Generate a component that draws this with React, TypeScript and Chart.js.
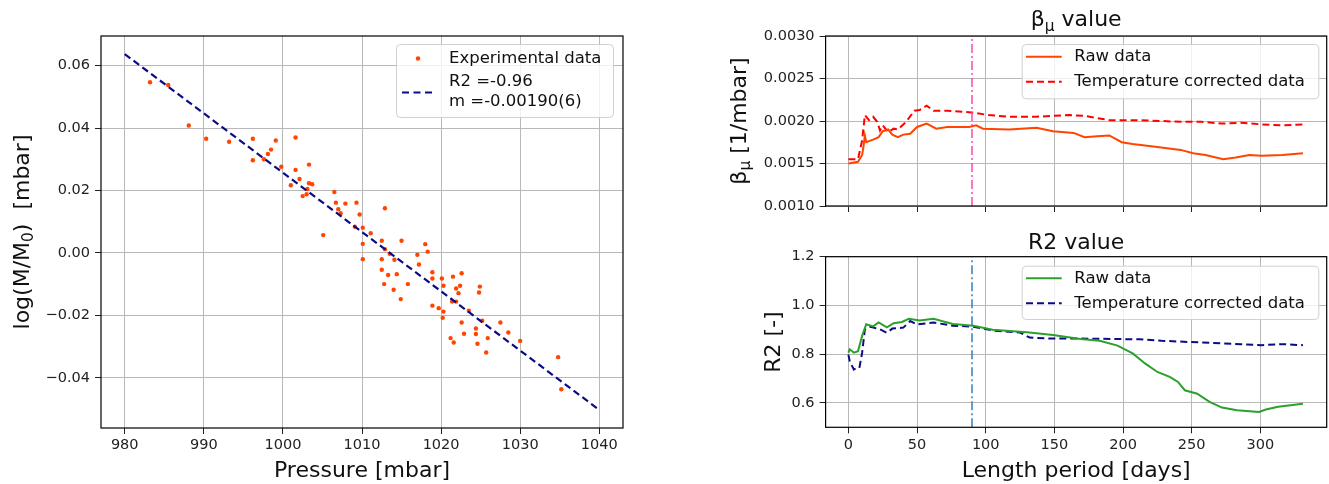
import React, { useEffect, useRef } from "react";
import { Chart, registerables } from "chart.js";

Chart.register(...registerables);

const FONT = "'DejaVu Sans', sans-serif";

// ---------- Left panel: experimental data ----------
const pressure = [
  983.2, 985.5, 988.1, 990.3, 993.2, 996.2, 996.2, 997.6, 998.1, 998.5,
  999.1, 999.8, 1001.6, 1001.6, 1001.0, 1002.1, 1002.5, 1003.3, 1003.3, 1003.1,
  1003.0, 1003.7, 1005.1, 1006.5, 1006.7, 1007.0, 1007.3, 1007.9, 1009.3, 1009.7,
  1009.1, 1010.1, 1011.1, 1010.1, 1010.1, 1012.9, 1012.5, 1012.9, 1013.5, 1012.5,
  1012.5, 1013.3, 1014.4, 1014.1, 1012.8, 1014.0, 1015.0, 1014.9, 1015.8, 1017.0,
  1017.2, 1018.0, 1018.3, 1018.9, 1018.9, 1018.9, 1019.7, 1020.1, 1020.3, 1020.3,
  1020.2, 1021.5, 1021.9, 1022.2, 1022.4, 1022.6, 1021.4, 1021.9, 1023.5, 1022.6,
  1021.2, 1021.6, 1022.9, 1024.4, 1024.4, 1024.6, 1024.8, 1024.9, 1025.2, 1025.9,
  1025.7, 1027.5, 1028.5, 1030.0, 1034.8, 1035.2,
];
const logRatio = [
  0.0547, 0.0538, 0.0408, 0.0366, 0.0356, 0.0366, 0.0297, 0.03, 0.0317, 0.0331,
  0.036, 0.0276, 0.037, 0.0266, 0.0217, 0.0237, 0.0182, 0.0283, 0.0223, 0.0205,
  0.0188, 0.022, 0.0057, 0.0195, 0.0161, 0.014, 0.0127, 0.0158, 0.0161, 0.0123,
  0.0084, 0.0081, 0.0063, 0.0029, -0.002, 0.0143, 0.0039, 0.0012, -0.0003, -0.002,
  -0.0054, -0.0071, -0.0068, -0.0022, -0.01, -0.0118, 0.0039, -0.0148, -0.01, -0.0006,
  -0.0037, 0.0028, 0.0004, -0.0062, -0.0082, -0.0169, -0.0177, -0.0082, -0.0105, -0.0188,
  -0.0208, -0.0076, -0.0114, -0.0129, -0.0105, -0.0065, -0.0156, -0.0156, -0.0185, -0.0223,
  -0.0273, -0.0287, -0.0259, -0.0242, -0.026, -0.0291, -0.0127, -0.0108, -0.0217, -0.0273,
  -0.0319, -0.0223, -0.0255, -0.0282, -0.0334, -0.0437,
];
const fitPressure = [980, 1040];
const fitLogRatio = [0.0637, -0.0503];
const pressureTicks = [980, 990, 1000, 1010, 1020, 1030, 1040];
const pressureTickLabels = ["980", "990", "1000", "1010", "1020", "1030", "1040"];
const logTicks = [-0.04, -0.02, 0, 0.02, 0.04, 0.06];
const logTickLabels = ["\u22120.04", "\u22120.02", "0.00", "0.02", "0.04", "0.06"];

// ---------- Right panels ----------
const betaRawDays = [0, 7, 10, 11, 12, 13, 18, 22, 25, 29, 32, 36, 40, 45, 50, 57, 64, 72, 88, 93, 98, 117, 137, 149, 164, 172, 181, 190, 199, 207, 222, 242, 251, 260, 273, 282, 292, 301, 316, 331];
const betaRaw = [0.0015, 0.00152, 0.0016, 0.0017, 0.00183, 0.00175, 0.00178, 0.00181, 0.00188, 0.0019, 0.00184, 0.00181, 0.00184, 0.00185, 0.00193, 0.00197, 0.00191, 0.00193, 0.00193, 0.00195, 0.00191, 0.0019, 0.00192, 0.00188, 0.00186, 0.00181, 0.00182, 0.00183, 0.00175, 0.00173, 0.0017, 0.00166, 0.00162, 0.0016, 0.00155, 0.00157, 0.0016, 0.00159, 0.0016, 0.00162];
const betaCorrDays = [0, 7, 10, 12, 15, 18, 21, 23, 25, 29, 33, 36, 42, 48, 52, 57, 62, 72, 90, 102, 117, 137, 161, 172, 190, 213, 242, 257, 272, 286, 301, 316, 331];
const betaCorr = [0.00155, 0.00155, 0.00177, 0.00207, 0.00201, 0.00205, 0.00199, 0.00189, 0.00195, 0.00187, 0.00191, 0.0019, 0.00199, 0.00212, 0.00213, 0.00218, 0.00212, 0.00212, 0.0021, 0.00207, 0.00205, 0.00205, 0.00207, 0.00206, 0.00201, 0.00201, 0.00199, 0.00199, 0.00197, 0.00198, 0.00196, 0.00195, 0.00196];

const r2RawDays = [0, 1, 4, 7, 10, 13, 18, 22, 28, 33, 39, 44, 52, 62, 76, 91, 105, 130, 149, 169, 183, 196, 207, 216, 225, 234, 240, 245, 254, 263, 272, 283, 299, 304, 313, 331];
const r2Raw = [0.806, 0.82, 0.806, 0.812, 0.875, 0.923, 0.914, 0.93, 0.91, 0.927, 0.932, 0.945, 0.938, 0.945, 0.924, 0.917, 0.9, 0.89, 0.879, 0.862, 0.855, 0.835, 0.803, 0.762, 0.727, 0.707, 0.686, 0.652, 0.638, 0.604, 0.581, 0.57, 0.563, 0.573, 0.584, 0.597];
const r2CorrDays = [0, 1, 4, 6, 8, 10, 12, 16, 23, 28, 32, 40, 45, 50, 62, 76, 91, 106, 125, 132, 149, 169, 212, 228, 257, 286, 301, 316, 331];
const r2Corr = [0.798, 0.77, 0.737, 0.744, 0.744, 0.806, 0.902, 0.912, 0.902, 0.888, 0.905, 0.909, 0.936, 0.922, 0.93, 0.917, 0.913, 0.896, 0.889, 0.868, 0.864, 0.864, 0.861, 0.855, 0.848, 0.841, 0.837, 0.841, 0.837];

const cutoffDay = 90;
const dayTicks = [0, 50, 100, 150, 200, 250, 300];
const dayTickLabels = ["0", "50", "100", "150", "200", "250", "300"];
const betaTicks = [0.001, 0.0015, 0.002, 0.0025, 0.003];
const betaTickLabels = ["0.0010", "0.0015", "0.0020", "0.0025", "0.0030"];
const r2Ticks = [0.6, 0.8, 1.0, 1.2];
const r2TickLabels = ["0.6", "0.8", "1.0", "1.2"];

// ---------- helpers ----------
type Part = { t: string; sub?: boolean };
type LegendItem = { kind: "dot" | "line"; color: string; dash?: number[]; width?: number; symY: number; lines: string[]; ys: number[] };
type Spec = {
  left: number; top: number; width: number; height: number;
  area: { left: number; right: number; top: number; bottom: number };
  datasets: any[];
  xMin: number; xMax: number; xTicks: number[]; xLabels: string[] | null;
  yMin: number; yMax: number; yTicks: number[]; yLabels: string[];
  title?: { parts: Part[]; y: number };
  xTitle?: { parts: Part[]; y: number };
  yTitle?: { parts: Part[]; x: number };
  legend: { box: number[]; symX: number[]; textX: number; items: LegendItem[] };
};

const pts = (xs: number[], ys: number[]) => xs.map((x, i) => ({ x, y: ys[i] }));

function drawRich(ctx: CanvasRenderingContext2D, parts: Part[], x: number, y: number, size: number, rotate: boolean) {
  ctx.save();
  ctx.translate(x, y);
  if (rotate) ctx.rotate(-Math.PI / 2);
  const big = `${size}px ${FONT}`;
  const small = `${size * 0.7}px ${FONT}`;
  let total = 0;
  for (const p of parts) {
    ctx.font = p.sub ? small : big;
    total += ctx.measureText(p.t).width;
  }
  let cx = -total / 2;
  ctx.textAlign = "left";
  ctx.textBaseline = "alphabetic";
  ctx.fillStyle = "#111";
  for (const p of parts) {
    ctx.font = p.sub ? small : big;
    ctx.fillText(p.t, cx, size * 0.36 + (p.sub ? size * 0.2 : 0));
    cx += ctx.measureText(p.t).width;
  }
  ctx.restore();
}

const GRID = "#b8b8b8";
const TICK_FONT = { family: FONT, size: 14.5 };

function Panel({ spec }: { spec: Spec }) {
  const ref = useRef<HTMLCanvasElement>(null);
  useEffect(() => {
    const canvas = ref.current!;
    const ox = spec.left;
    const oy = spec.top;
    const W = spec.width;
    const H = spec.height;
    const a = {
      left: spec.area.left - ox,
      right: spec.area.right - ox,
      top: spec.area.top - oy,
      bottom: spec.area.bottom - oy,
    };
    const decor = {
      id: "decor",
      afterDraw(chart: any) {
        const ctx: CanvasRenderingContext2D = chart.ctx;
        const ca = chart.chartArea;
        ctx.save();
        ctx.strokeStyle = "#000";
        ctx.lineWidth = 1.2;
        ctx.setLineDash([]);
        ctx.strokeRect(ca.left, ca.top, ca.right - ca.left, ca.bottom - ca.top);
        // legend
        const L = spec.legend;
        const bx0 = L.box[0] - ox, by0 = L.box[1] - oy, bx1 = L.box[2] - ox, by1 = L.box[3] - oy;
        ctx.beginPath();
        (ctx as any).roundRect(bx0 + 0.5, by0 + 0.5, bx1 - bx0, by1 - by0, 4);
        ctx.fillStyle = "rgba(255,255,255,0.8)";
        ctx.fill();
        ctx.strokeStyle = "#d0d0d0";
        ctx.lineWidth = 1;
        ctx.stroke();
        for (const it of L.items) {
          const sy = it.symY - oy;
          const sx0 = L.symX[0] - ox, sx1 = L.symX[1] - ox;
          if (it.kind === "dot") {
            ctx.beginPath();
            ctx.arc((sx0 + sx1) / 2, sy, 2.2, 0, Math.PI * 2);
            ctx.fillStyle = it.color;
            ctx.fill();
          } else {
            ctx.beginPath();
            ctx.setLineDash(it.dash || []);
            ctx.strokeStyle = it.color;
            ctx.lineWidth = it.width || 2;
            ctx.moveTo(sx0, sy);
            ctx.lineTo(sx1, sy);
            ctx.stroke();
            ctx.setLineDash([]);
          }
          ctx.font = `16.5px ${FONT}`;
          ctx.fillStyle = "#111";
          ctx.textAlign = "left";
          ctx.textBaseline = "middle";
          it.lines.forEach((t, i) => ctx.fillText(t, L.textX - ox, it.ys[i] - oy));
        }
        const cxm = (ca.left + ca.right) / 2;
        const cym = (ca.top + ca.bottom) / 2;
        if (spec.title) drawRich(ctx, spec.title.parts, cxm, spec.title.y - oy, 22, false);
        if (spec.xTitle) drawRich(ctx, spec.xTitle.parts, cxm, spec.xTitle.y - oy, 22, false);
        if (spec.yTitle) drawRich(ctx, spec.yTitle.parts, spec.yTitle.x - ox, cym, 22, true);
        ctx.restore();
      },
    };
    const chart = new Chart(canvas, {
      type: "scatter",
      data: { datasets: spec.datasets },
      options: {
        animation: false,
        responsive: false,
        devicePixelRatio: 1,
        layout: { padding: { left: 0, top: a.top, right: W - a.right, bottom: 0 } },
        plugins: { legend: { display: false }, tooltip: { enabled: false }, title: { display: false } },
        elements: { line: { tension: 0 } },
        scales: {
          x: {
            type: "linear",
            position: "bottom",
            min: spec.xMin,
            max: spec.xMax,
            afterBuildTicks: (s: any) => {
              s.ticks = spec.xTicks.map((v) => ({ value: v }));
            },
            afterFit: (s: any) => {
              s.height = H - a.bottom;
            },
            grid: { color: GRID, lineWidth: 1, drawTicks: true, tickLength: 6, tickColor: "#222", tickWidth: 1 },
            border: { display: false },
            ticks: {
              font: TICK_FONT,
              color: "#222",
              padding: 3,
              maxRotation: 0,
              autoSkip: false,
              callback: (_v: any, i: number) => (spec.xLabels ? spec.xLabels[i] : ""),
            },
          },
          y: {
            type: "linear",
            position: "left",
            min: spec.yMin,
            max: spec.yMax,
            afterBuildTicks: (s: any) => {
              s.ticks = spec.yTicks.map((v) => ({ value: v }));
            },
            afterFit: (s: any) => {
              s.width = a.left;
            },
            grid: { color: GRID, lineWidth: 1, drawTicks: true, tickLength: 6, tickColor: "#222", tickWidth: 1 },
            border: { display: false },
            ticks: {
              font: TICK_FONT,
              color: "#222",
              padding: 5,
              autoSkip: false,
              callback: (_v: any, i: number) => spec.yLabels[i],
            },
          },
        },
      } as any,
      plugins: [decor],
    });
    return () => chart.destroy();
  }, []);
  return (
    <canvas
      ref={ref}
      width={spec.width}
      height={spec.height}
      style={{ position: "absolute", left: spec.left, top: spec.top, width: spec.width, height: spec.height }}
    />
  );
}

const NAVY = "#0b0b85";

const leftSpec: Spec = {
  left: 0, top: 0, width: 700, height: 484,
  area: { left: 101, right: 623, top: 36, bottom: 428 },
  datasets: [
    {
      data: pts(fitPressure, fitLogRatio),
      showLine: true, borderColor: NAVY, borderWidth: 2.2, borderDash: [7, 4], pointRadius: 0,
    },
    {
      data: pts(pressure, logRatio),
      showLine: false, pointRadius: 2.2, pointBackgroundColor: "#ff4500", pointBorderWidth: 0,
    },
  ],
  xMin: 977, xMax: 1043, xTicks: pressureTicks, xLabels: pressureTickLabels,
  yMin: -0.0561, yMax: 0.0695, yTicks: logTicks, yLabels: logTickLabels,
  xTitle: { parts: [{ t: "Pressure [mbar]" }], y: 469 },
  yTitle: { parts: [{ t: "log(M/M" }, { t: "0", sub: true }, { t: ")  [mbar]" }], x: 21 },
  legend: {
    box: [396, 44, 613, 117], symX: [402, 434], textX: 449,
    items: [
      { kind: "dot", color: "#ff4500", symY: 58.5, lines: ["Experimental data"], ys: [58.5] },
      { kind: "line", color: NAVY, dash: [7, 4.5], width: 2.2, symY: 92.5, lines: ["R2 =-0.96", "m =-0.00190(6)"], ys: [82, 101.5] },
    ],
  },
};

const topSpec: Spec = {
  left: 700, top: 0, width: 629, height: 232,
  area: { left: 825.6, right: 1326.7, top: 36, bottom: 206 },
  datasets: [
    {
      data: pts([cutoffDay, cutoffDay], [0.001, 0.003]),
      showLine: true, borderColor: "#ff45b0", borderWidth: 1.5, borderDash: [9, 3, 2, 3], pointRadius: 0,
    },
    {
      data: pts(betaRawDays, betaRaw),
      showLine: true, borderColor: "#ff4500", borderWidth: 2, pointRadius: 0,
    },
    {
      data: pts(betaCorrDays, betaCorr),
      showLine: true, borderColor: "#ff0000", borderWidth: 2, borderDash: [7, 4], pointRadius: 0,
    },
  ],
  xMin: -16.6, xMax: 348.3, xTicks: dayTicks, xLabels: null,
  yMin: 0.001, yMax: 0.003, yTicks: betaTicks, yLabels: betaTickLabels,
  title: { parts: [{ t: "\u03b2" }, { t: "\u03bc", sub: true }, { t: " value" }], y: 18.3 },
  yTitle: { parts: [{ t: "\u03b2" }, { t: "\u03bc", sub: true }, { t: " [1/mbar]" }], x: 738 },
  legend: {
    box: [1021.7, 44, 1318.3, 98.3], symX: [1026, 1061.7], textX: 1074.3,
    items: [
      { kind: "line", color: "#ff4500", width: 2, symY: 56.7, lines: ["Raw data"], ys: [56.7] },
      { kind: "line", color: "#ff0000", dash: [7, 4], width: 2, symY: 81.7, lines: ["Temperature corrected data"], ys: [81.7] },
    ],
  },
};

const bottomSpec: Spec = {
  left: 700, top: 232, width: 629, height: 252,
  area: { left: 825.6, right: 1326.7, top: 256.7, bottom: 427.3 },
  datasets: [
    {
      data: pts([cutoffDay, cutoffDay], [0.5, 1.2]),
      showLine: true, borderColor: "#2f80c0", borderWidth: 1.5, borderDash: [9, 3, 2, 3], pointRadius: 0,
    },
    {
      data: pts(r2RawDays, r2Raw),
      showLine: true, borderColor: "#2ca02c", borderWidth: 2, pointRadius: 0,
    },
    {
      data: pts(r2CorrDays, r2Corr),
      showLine: true, borderColor: NAVY, borderWidth: 2, borderDash: [7, 4], pointRadius: 0,
    },
  ],
  xMin: -16.6, xMax: 348.3, xTicks: dayTicks, xLabels: dayTickLabels,
  yMin: 0.5, yMax: 1.2, yTicks: r2Ticks, yLabels: r2TickLabels,
  title: { parts: [{ t: "R2 value" }], y: 240.7 },
  xTitle: { parts: [{ t: "Length period [days]" }], y: 469 },
  yTitle: { parts: [{ t: "R2 [-]" }], x: 772 },
  legend: {
    box: [1021.7, 265.7, 1318.3, 319], symX: [1026, 1061.7], textX: 1074.3,
    items: [
      { kind: "line", color: "#2ca02c", width: 2, symY: 278.3, lines: ["Raw data"], ys: [278.3] },
      { kind: "line", color: NAVY, dash: [7, 4], width: 2, symY: 303.3, lines: ["Temperature corrected data"], ys: [303.3] },
    ],
  },
};

export default function App() {
  return (
    <div style={{ position: "absolute", left: 0, top: 0, width: 1329, height: 484, background: "#fff", overflow: "hidden" }}>
      <Panel spec={leftSpec} />
      <Panel spec={topSpec} />
      <Panel spec={bottomSpec} />
    </div>
  );
}
